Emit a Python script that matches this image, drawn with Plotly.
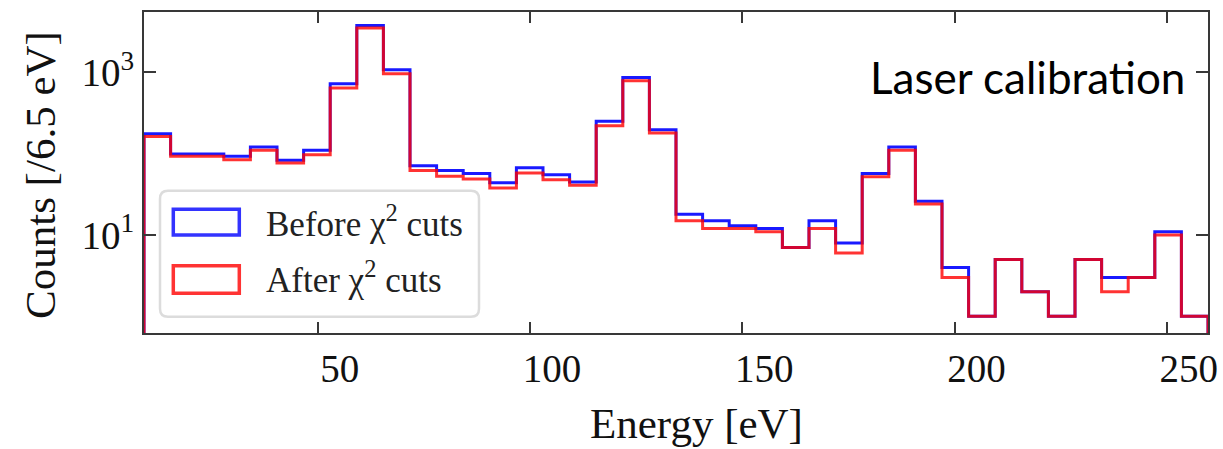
import numpy as np
import plotly.graph_objects as go

# ---- data ----
first_edge_eV = 9.07
bin_width_eV = 6.266
counts_before = [176, 99, 99, 93, 121, 83, 110, 726, 3785, 1080,
                 71, 62, 57, 44, 67, 55, 45, 250, 868, 197,
                 18, 15, 13, 12, 7, 15, 8, 57, 121, 26,
                 4, 1, 5, 2, 1, 5, 3, 3, 11, 1]
counts_after = [163, 93, 93, 84, 110, 77, 97, 643, 3517, 964,
                62, 53, 49, 38, 58, 48, 41, 221, 791, 180,
                15, 12, 12, 11, 7, 12, 6, 52, 110, 24,
                3, 1, 5, 2, 1, 5, 2, 3, 10, 1]
series_names = ["Before χ<sup>2</sup> cuts", "After χ<sup>2</sup> cuts"]
x_ticks = [50, 100, 150, 200, 250]
y_ticks = [10, 1000]
y_ticktext = ["10<sup>1</sup>", "10<sup>3</sup>"]

edges = first_edge_eV + bin_width_eV * np.arange(len(counts_before) + 1)
FLOOR = 1e-3  # histogram step drops to zero (below log axis range)


def step_xy(counts):
    xs = [edges[0]] + list(edges[:-1]) + [edges[-1], edges[-1]]
    ys = [FLOOR] + list(counts) + [counts[-1], FLOOR]
    return xs, ys


fig = go.Figure()
xb, yb = step_xy(counts_before)
xa, ya = step_xy(counts_after)
fig.add_trace(go.Scatter(x=xb, y=yb, mode="lines", line_shape="hv",
                         line=dict(color="rgba(0,0,255,0.9)", width=3),
                         name=series_names[0], showlegend=False))
fig.add_trace(go.Scatter(x=xa, y=ya, mode="lines", line_shape="hv",
                         line=dict(color="rgba(255,0,0,0.8)", width=3),
                         name=series_names[1], showlegend=False))

SERIF = "Liberation Serif"
axis_col = "#383838"
fig.update_xaxes(range=[edges[0], edges[-1]], tickvals=x_ticks,
                 ticks="inside", ticklen=11, tickwidth=2, tickcolor=axis_col,
                 showline=True, linewidth=2, linecolor=axis_col, mirror="ticks",
                 showgrid=False, zeroline=False, ticklabelshift=22,
                 automargin=False,
                 tickfont=dict(family=SERIF, size=39, color="#111"))
fig.update_yaxes(type="log", range=[-0.205, 3.743], tickvals=y_ticks,
                 ticktext=y_ticktext, automargin=False,
                 ticks="inside", ticklen=12, tickwidth=2, tickcolor=axis_col,
                 showline=True, linewidth=2, linecolor=axis_col, mirror="ticks",
                 showgrid=False, zeroline=False,
                 tickfont=dict(family=SERIF, size=39, color="#111"))

W, H = 1223, 449
L, R, T, B = 144, 15, 12, 116
pw, ph = W - L - R, H - T - B


def px(x):
    return (x - L) / pw


def py(y):
    return (H - B - y) / ph


# custom legend (rounded frame + outlined patches)
lx0, lx1, ly0, ly1 = px(160), px(479), py(316.7), py(190.7)
rx, ry = 8 / pw, 8 / ph
path = (f"M {lx0+rx},{ly0} L {lx1-rx},{ly0} Q {lx1},{ly0} {lx1},{ly0+ry} "
        f"L {lx1},{ly1-ry} Q {lx1},{ly1} {lx1-rx},{ly1} L {lx0+rx},{ly1} "
        f"Q {lx0},{ly1} {lx0},{ly1-ry} L {lx0},{ly0+ry} Q {lx0},{ly0} {lx0+rx},{ly0} Z")
shapes = [dict(type="path", path=path, xref="paper", yref="paper",
               line=dict(color="#dcdcdc", width=2.5),
               fillcolor="rgba(255,255,255,0.85)", layer="above")]
for (y0, y1, col) in [(209.3, 235, "rgba(0,0,255,0.8)"), (265.7, 293.3, "rgba(255,0,0,0.8)")]:
    shapes.append(dict(type="rect", xref="paper", yref="paper",
                       x0=px(173.3), x1=px(239.3), y0=py(y1), y1=py(y0),
                       line=dict(color=col, width=3.5), fillcolor="rgba(0,0,0,0)",
                       layer="above"))

annotations = [
    dict(text=series_names[0], x=px(264), y=py(221), xref="paper", yref="paper",
         xanchor="left", yanchor="middle", showarrow=False,
         font=dict(family=SERIF, size=35, color="#222")),
    dict(text=series_names[1], x=px(264), y=py(277), xref="paper", yref="paper",
         xanchor="left", yanchor="middle", showarrow=False,
         font=dict(family=SERIF, size=35, color="#222")),
    dict(text="Energy [eV]", x=px(696), y=py(423), xref="paper", yref="paper",
         xanchor="center", yanchor="middle", showarrow=False,
         font=dict(family=SERIF, size=43, color="#111")),
    dict(text="Counts [/6.5 eV]", x=px(41), y=py(175), xref="paper", yref="paper",
         xanchor="center", yanchor="middle", showarrow=False, textangle=-90,
         font=dict(family=SERIF, size=43, color="#111")),
    dict(text="Laser calibration", x=px(1027), y=py(77), xref="paper", yref="paper",
         xanchor="center", yanchor="middle", showarrow=False,
         font=dict(family="Lato", size=44, color="#000")),
]

fig.update_layout(width=W, height=H, margin=dict(l=L, r=R, t=T, b=B, autoexpand=False),
                  paper_bgcolor="white", plot_bgcolor="white",
                  shapes=shapes, annotations=annotations, showlegend=False)
fig.write_html("out.html", config={"displayModeBar": False},
               post_script="document.body.style.margin='0';document.body.style.overflow='hidden';")
